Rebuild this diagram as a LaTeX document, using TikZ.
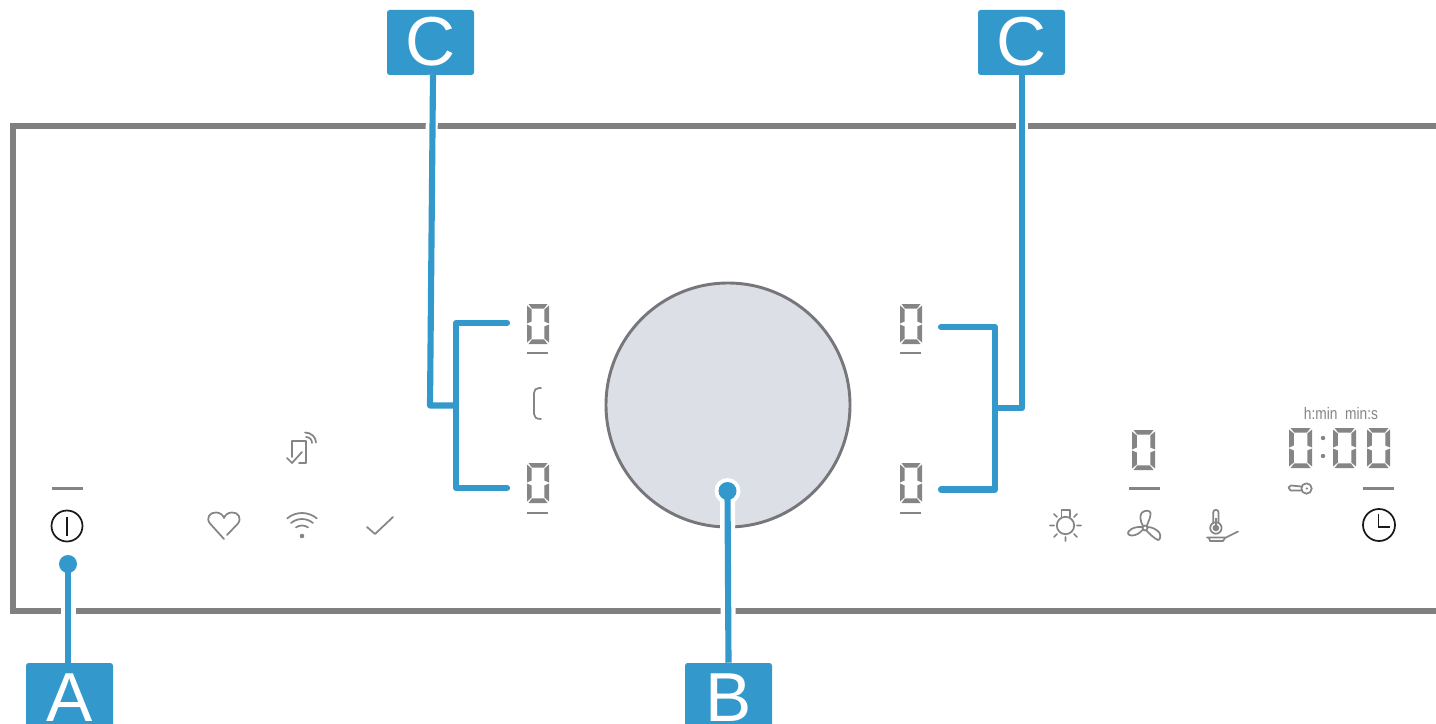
\documentclass[tikz,border=0pt]{standalone}
\usepackage{fontspec}
\setmainfont{Liberation Sans}
\definecolor{callout}{HTML}{3399CC}
\definecolor{framegray}{HTML}{808080}
\definecolor{icongray}{HTML}{858585}
\definecolor{knobfill}{HTML}{DCDFE5}
\definecolor{knobline}{HTML}{77777B}
\definecolor{inkblack}{HTML}{1A1A1A}
\tikzset{
  labelbox/.style={fill=callout,rounded corners=2pt,inner sep=0pt,minimum width=65.25pt,minimum height=48.75pt,text=white,font=\fontsize{52}{52}\selectfont},
  lowtext/.style={text height=39.5pt,text depth=0pt},
  hightext/.style={text height=37.2pt,text depth=3pt},
  leader/.style={draw=callout,line width=4.6pt,line join=round},
  halo/.style={draw=white,line width=11.25pt},
  slimhalo/.style={draw=white,line width=9pt},
  framepath/.style={draw=framegray,line width=4.2pt},
  iconline/.style={draw=icongray,line width=1.3pt,line cap=round,line join=round},
  softkey/.style={draw=inkblack,line width=1.3pt},
  underbar/.style={draw=icongray,line width=1.8pt},
  digit/.pic={
    \fill[icongray] (1.5,0) -- (20.5,0) -- (17,4.6) -- (5,4.6) -- cycle;
    \fill[icongray] (1.5,40) -- (20.5,40) -- (17,35.4) -- (5,35.4) -- cycle;
    \fill[icongray] (0,1.5) -- (4.6,5.5) -- (4.6,17.5) -- (0,19.5) -- cycle;
    \fill[icongray] (0,38.5) -- (4.6,34.5) -- (4.6,22.5) -- (0,20.5) -- cycle;
    \fill[icongray] (22,1.5) -- (17.4,5.5) -- (17.4,17.5) -- (22,19.5) -- cycle;
    \fill[icongray] (22,38.5) -- (17.4,34.5) -- (17.4,22.5) -- (22,20.5) -- cycle;
  }
}
\begin{document}
\begin{tikzpicture}[x=0.75pt,y=-0.75pt]
\useasboundingbox (0,0) rectangle (1436,724);
\fill[white] (0,0) rectangle (1436,724);
% frame
\draw[framepath] (1436,126) -- (13,126) -- (13,611) -- (1436,611);
% knob
\node[circle,draw=knobline,fill=knobfill,line width=2.2pt,minimum size=183pt,inner sep=0pt] (knob) at (728,405) {};
% digits
\pic at (527,304) {digit};
\pic at (527,463) {digit};
\pic at (900,304) {digit};
\pic at (900,463) {digit};
\pic[xscale=1.05] at (1132,430) {digit};
\pic[xscale=1.05] at (1289,428) {digit};
\pic[xscale=1.05] at (1333,428) {digit};
\pic[xscale=1.05] at (1367,428) {digit};
\fill[icongray] (1323,438) circle (2.2) (1323,456) circle (2.2);
% dashes
\draw[underbar] (527,353) -- (548,353);
\draw[underbar] (527,513) -- (548,513);
\draw[underbar] (900,353) -- (921,353);
\draw[underbar] (900,513) -- (921,513);
\draw[underbar] (52,488.5) -- (83,488.5);
\draw[underbar] (1129,488.5) -- (1160,488.5);
\draw[underbar] (1363,488.5) -- (1394,488.5);
% bracket glyph
\draw[iconline] (541,388) -- (539,388) .. controls (536,388) and (534,390) .. (534,393) -- (534,414) .. controls (534,417) and (536,419) .. (541,419);
% power
\draw[softkey] (67,526) circle (15.5);
\draw[softkey] (67,516.5) -- (67,535.5);
% clock
\draw[softkey] (1379,525) circle (16);
\draw[softkey,line join=miter] (1378.5,513.5) -- (1378.5,527) -- (1390,527);
% heart
\draw[iconline] (227,535) -- (238,523.5) .. controls (242,518) and (238,512) .. (232,512.5) .. controls (228,512.5) and (225,515) .. (224,518) .. controls (223,515) and (220,512.5) .. (216,512.5) .. controls (210,512) and (205.5,518) .. (210,523.5) -- (224,539);
% wifi
\fill[icongray] (302,536) circle (2.3);
\draw[iconline] (302,536) ++(-130:23) arc (-130:-50:23);
\draw[iconline] (302,536) ++(-130:17) arc (-130:-50:17);
\draw[iconline] (302,536) ++(-125:10.5) arc (-125:-55:10.5);
% check
\draw[iconline] (367,527) -- (375,534) -- (393,517);
% phone
\draw[iconline] (292,457) -- (292,441) -- (306,441) -- (306,463) -- (299,463);
\draw[iconline] (287,458) -- (292,463) -- (302,452);
\draw[iconline] (306,437) .. controls (309.5,437) and (312,439.5) .. (312,443);
\draw[iconline] (305,432.5) .. controls (311,432.5) and (316,437) .. (316,442.5);
% lamp
\draw[iconline] (1065.5,525.5) circle (8.7);
\draw[iconline] (1061.5,517) -- (1061.5,510) -- (1070,510) -- (1070,517);
\draw[iconline] (1050,525.5) -- (1054,525.5) (1077,525.5) -- (1081,525.5) (1065.5,537) -- (1065.5,541)
 (1054,514) -- (1057,517) (1077,514) -- (1074,517) (1054,537) -- (1057,534) (1077,537) -- (1074,534);
% fan
\draw[iconline] (1145,528) circle (2.5);
\draw[iconline] (1143,526) .. controls (1140,521) and (1139.5,515) .. (1142,512.5) .. controls (1145,510) and (1150,510) .. (1150.5,513) .. controls (1151,517) and (1148,522) .. (1147,525.5);
\draw[iconline] (1143,529.5) .. controls (1140,533) and (1136,535.5) .. (1132,535.5) .. controls (1128,535.5) and (1127,533) .. (1129,531) .. controls (1132,527.5) and (1138,526.5) .. (1142.5,527);
\draw[iconline] (1147.5,527) .. controls (1152,527) and (1157,529.5) .. (1159.5,533) .. controls (1161,536) and (1160,540.5) .. (1158,540) .. controls (1155,539) and (1149,533.5) .. (1146.5,530.5);
% thermometer and pan
\draw[iconline] (1213.2,522.8) -- (1213.2,512.5) arc (-180:0:2.7) -- (1218.6,522.8);
\draw[iconline] (1215.9,528) circle (5.7);
\fill[icongray] (1215.9,528) circle (3.3);
\fill[icongray] (1214.9,518) rectangle (1216.9,526);
\draw[iconline] (1207,537.5) -- (1226,537.5) -- (1238,531.5);
\draw[iconline] (1209,538) -- (1210,541) -- (1223,541) -- (1225,538);
% key
\draw[iconline] (1306.5,488.5) circle (5.2);
\draw[iconline] (1301.5,486.5) -- (1291,485.5) -- (1288.5,487.5) -- (1290.5,490.5) -- (1301.5,490.5);
\fill[icongray] (1306.8,488.5) circle (1.2);
% timer text
\node[text=icongray,font=\fontsize{12.5}{12.5}\selectfont,xscale=0.825,inner sep=0pt] (timerunits) at (1341,414) {h:min\ \ min:s};
% label nodes
\node[labelbox,lowtext] (labelA) at (69.5,695.5) {A};
\node[labelbox,lowtext] (labelB) at (728.5,695.5) {B};
\node[labelbox,hightext] (labelCa) at (430.5,42.5) {C};
\node[labelbox,hightext] (labelCb) at (1021.5,42.5) {C};
% leader junctions
\coordinate (dotA) at (68,564);
\coordinate (dotB) at (727.5,491);
\coordinate (topCa) at (433,75);
\coordinate (topCb) at (1022,75);
\coordinate (kneeCa) at (430,405.5);
\coordinate (joinCa) at (456,405.5);
\coordinate (kneeCb) at (1022,408);
\coordinate (joinCb) at (995,408);
\coordinate (ula) at (507,323);
\coordinate (ulb) at (456,323);
\coordinate (lla) at (507,488);
\coordinate (llb) at (456,488);
\coordinate (ura) at (941,327);
\coordinate (urb) at (995,327);
\coordinate (lra) at (941,489.5);
\coordinate (lrb) at (995,489.5);
% halos
\draw[halo] (dotA) -- (labelA.north -| dotA);
\draw[halo] (dotB) -- (labelB.north);
\fill[white] (dotB) circle (13);
\draw[slimhalo] (topCa) -- (431.5,135);
\draw[slimhalo] (topCb) -- (1022,135);
% leaders
\fill[callout] (dotA) circle (9);
\draw[leader] (dotA) -- (labelA.north -| dotA);
\fill[callout] (dotB) circle (9);
\draw[leader] (dotB) -- (labelB.north);
\draw[leader] (topCa) -- (kneeCa) -- (joinCa);
\draw[leader] (topCb) -- (kneeCb) -- (joinCb);
\draw[leader,line cap=round] (ula) -- (ulb) -- (llb) -- (lla);
\draw[leader,line cap=round] (ura) -- (urb) -- (lrb) -- (lra);
\end{tikzpicture}
\end{document}
